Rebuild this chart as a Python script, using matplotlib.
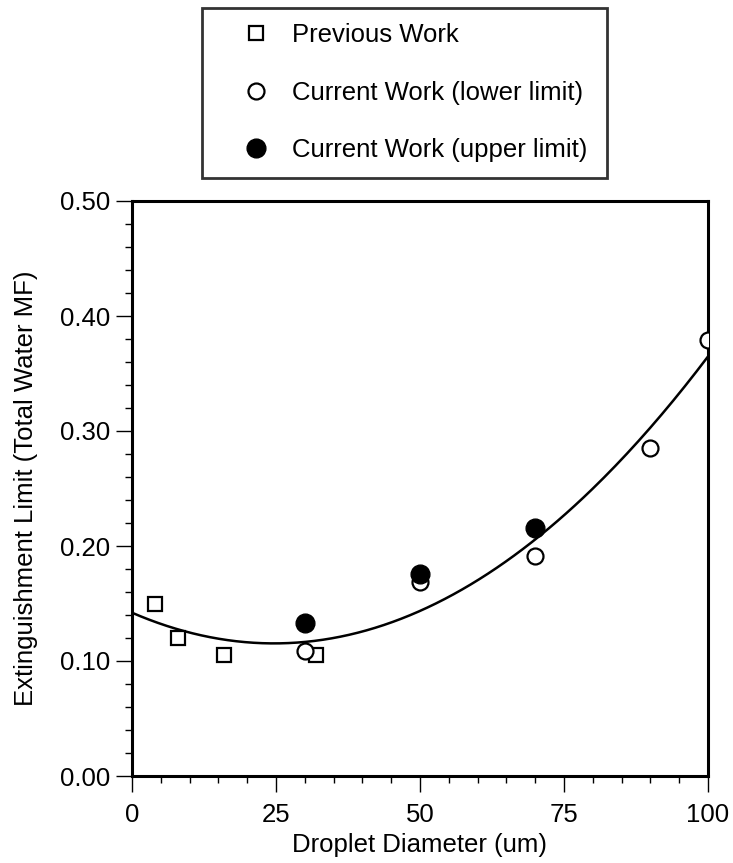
import numpy as np
import matplotlib.pyplot as plt
from matplotlib.ticker import MultipleLocator, FormatStrFormatter

plt.rcParams["font.family"] = ["Liberation Sans", "DejaVu Sans"]

# data
prev_x = [4, 8, 16, 32]
prev_y = [0.150, 0.120, 0.105, 0.105]

lower_x = [30, 50, 70, 90, 100]
lower_y = [0.109, 0.169, 0.191, 0.285, 0.379]

upper_x = [30, 50, 70]
upper_y = [0.133, 0.176, 0.216]

# quadratic trend line (c2, c1, c0)
fit_coef = [4.394e-5, -2.166e-3, 0.142]

fig = plt.figure(figsize=(7.33, 8.63), dpi=100)
ax = fig.add_axes([132 / 733, 1 - 776 / 863, 576 / 733, 575 / 863])

xs = np.linspace(0, 100, 200)
ax.plot(xs, np.polyval(fit_coef, xs), color="black", lw=1.8, zorder=2)

h1, = ax.plot(prev_x, prev_y, "s", ms=10, mfc="white", mec="black", mew=1.6,
              ls="none", label="Previous Work", zorder=3)
h2, = ax.plot(lower_x, lower_y, "o", ms=11.5, mfc="white", mec="black", mew=1.6,
              ls="none", label="Current Work (lower limit)", zorder=3)
h3, = ax.plot(upper_x, upper_y, "o", ms=13.5, mfc="black", mec="black",
              ls="none", label="Current Work (upper limit)", zorder=4)

ax.set_xlim(0, 100)
ax.set_ylim(0, 0.5)
ax.xaxis.set_major_locator(MultipleLocator(25))
ax.xaxis.set_minor_locator(MultipleLocator(5))
ax.yaxis.set_major_locator(MultipleLocator(0.1))
ax.yaxis.set_minor_locator(MultipleLocator(0.02))
ax.yaxis.set_major_formatter(FormatStrFormatter("%.2f"))

for s in ax.spines.values():
    s.set_linewidth(2.2)
ax.tick_params(which="major", direction="out", length=11.5, width=1.0,
               labelsize=18.5, pad=4)
ax.tick_params(which="minor", direction="out", length=5, width=1.0)
ax.tick_params(axis="x", which="major", pad=8)

ax.set_xlabel("Droplet Diameter (um)", fontsize=18.5, labelpad=4)
ax.set_ylabel("Extinguishment Limit (Total Water MF)", fontsize=18.5, labelpad=16)

leg = fig.legend(handles=[h1, h2, h3], loc="upper left",
                 bbox_to_anchor=(202 / 733, 1 - 177 / 863, 405 / 733, 169 / 863),
                 mode="expand", fontsize=18.5, frameon=True, fancybox=False,
                 borderpad=0.6, handlelength=3.0, handletextpad=-0.1,
                 labelspacing=1.3, borderaxespad=0)
leg.get_frame().set_edgecolor("black")
leg.get_frame().set_linewidth(2)

plt.savefig("out.png", dpi=100)
